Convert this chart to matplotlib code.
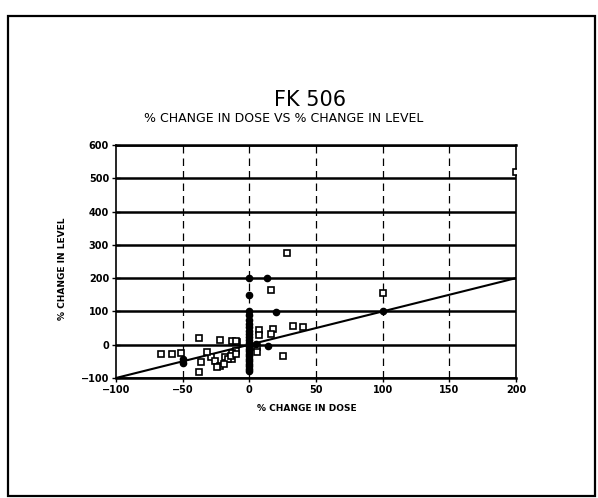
import matplotlib
matplotlib.use('Agg')
import matplotlib.pyplot as plt
from matplotlib.patches import Rectangle

# open squares (individual patients)
sq_x = [200, 100, 28, 16, 7, 7, 18, 16, 33, 40, 25, 6, 6, -9, -10, -13, -13,
        -38, -22, -13, -10, -66, -58, -51, -38, -36, -29, -26, -22, -18, -16,
        -14, -10, -19, -24, -32]
sq_y = [520, 155, 275, 165, 45, 28, 48, 33, 57, 53, -33, -8, -22, 7, -20, -25, -42,
        20, 15, 12, 12, -28, -28, -26, -83, -53, -38, -48, -63, -38, -42,
        -33, -27, -57, -68, -23]

# filled dots (overlapping points)
dot_x = [0, 13, 0, 20, 100, -50, -50, 14, 5,
         0, 0, 0, 0, 0, 0, 0, 0, 0, 0, 0, 0, 0, 0, 0, 0, 0, 0, 0, 0, 0]
dot_y = [200, 200, 150, 98, 100, -42, -55, -3, 2,
         -80, -72, -64, -57, -50, -42, -35, -28, -20, -12, -5, 5, 14, 22,
         31, 40, 52, 63, 75, 88, 100]

fit_x = [-100, 200]
fit_y = [-100, 200]

xticks = [-100, -50, 0, 50, 100, 150, 200]
yticks = [-100, 0, 100, 200, 300, 400, 500, 600]

fig = plt.figure(figsize=(5.98, 4.98), dpi=100)
fig.patches.append(Rectangle((0.013, 0.004), 0.982, 0.964, transform=fig.transFigure,
                             fill=False, lw=1.6, ec='black'))

ax = fig.add_axes([0.194, 0.241, 0.669, 0.468])
ax.set_xlim(-100, 200)
ax.set_ylim(-100, 600)

for y in yticks:
    ax.axhline(y, color='black', lw=1.8, zorder=1)
for x in xticks[1:-1]:
    ax.axvline(x, color='black', lw=0.9, ls=(0, (6, 4)), zorder=1)

ax.plot(fit_x, fit_y, color='black', lw=1.5, zorder=2)
ax.plot(sq_x, sq_y, 's', ms=4, mfc='white', mec='black', mew=1.2, zorder=3)
ax.plot(dot_x, dot_y, 'o', ms=4.5, color='black', zorder=4)

for s in ['left', 'right']:
    ax.spines[s].set_linewidth(1.2)
for s in ['top', 'bottom']:
    ax.spines[s].set_linewidth(1.8)

ax.set_xticks(xticks)
ax.set_yticks(yticks)
ax.set_xticklabels(['\u2212100', '\u221250', '0', '50', '100', '150', '200'],
                   fontsize=7, fontweight='bold')
ax.set_yticklabels(['\u2212100', '0', '100', '200', '300', '400', '500', '600'],
                   fontsize=7, fontweight='bold')
ax.tick_params(axis='y', direction='inout', length=6, width=1, pad=2)
ax.tick_params(axis='x', direction='out', length=3, width=1, pad=2)

fig.text(0.518, 0.800, 'FK 506', ha='center', va='center', fontsize=15)
fig.text(0.475, 0.762, '% CHANGE IN DOSE VS % CHANGE IN LEVEL', ha='center',
         va='center', fontsize=9)
fig.text(0.513, 0.180, '% CHANGE IN DOSE', ha='center', va='center', fontsize=6.5,
         fontweight='bold')
fig.text(0.105, 0.46, '% CHANGE IN LEVEL', ha='center', va='center', fontsize=6.5,
         fontweight='bold', rotation=90)

fig.savefig('out.png', dpi=100)
